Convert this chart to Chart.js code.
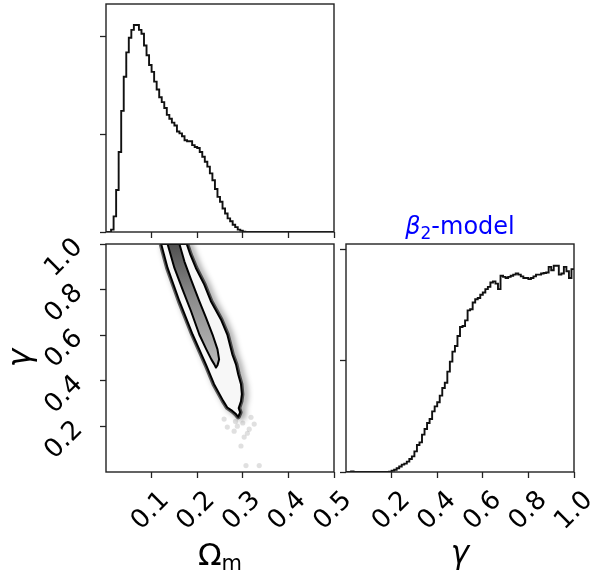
<!DOCTYPE html>
<html><head><meta charset="utf-8">
<script src="https://cdn.jsdelivr.net/npm/chart.js@4.4.1/dist/chart.umd.min.js"></script>
<style>
html,body{margin:0;padding:0;background:#fff;}
#wrap{position:relative;width:594px;height:577px;overflow:hidden;}
canvas{position:absolute;left:0;top:0;}
</style></head><body>
<div id="wrap">
<canvas id="cTL" width="594" height="577"></canvas>
<canvas id="cBL" width="594" height="577"></canvas>
<canvas id="cBR" width="594" height="577"></canvas>
</div>
<script>
// ---------------- data ----------------
const omRange = [0, 0.5];
const gRange = [0, 1];
// marginal histogram of Omega_m (90 bins over omRange)
const omHist = [0, 0, 0.024, 0.16, 0.43, 0.82, 1.24, 1.59, 1.84, 1.99,
  2.07, 2.12, 2.12, 2.07, 2.03, 1.91, 1.81, 1.71, 1.64, 1.54,
  1.46, 1.38, 1.33, 1.27, 1.20, 1.16, 1.12, 1.09, 1.03, 1.01,
  0.98, 0.94, 0.93, 0.93, 0.89, 0.87, 0.86, 0.82, 0.77, 0.72,
  0.67, 0.60, 0.53, 0.44, 0.36, 0.31, 0.24, 0.19, 0.14, 0.11,
  0.075, 0.05, 0.024, 0.014, 0.003, 0, 0, 0, 0, 0,
  0, 0, 0, 0, 0, 0, 0, 0, 0, 0,
  0, 0, 0, 0, 0, 0, 0, 0, 0, 0,
  0, 0, 0, 0, 0, 0, 0, 0, 0, 0];
// marginal histogram of gamma (90 bins over gRange)
const gHist = [0, 0, 0.006, 0, 0, 0, 0, 0, 0, 0,
  0, 0, 0, 0, 0, 0, 0, 0.003, 0.012, 0.02,
  0.033, 0.05, 0.066, 0.075, 0.093, 0.117, 0.14, 0.185, 0.242, 0.266,
  0.335, 0.386, 0.44, 0.475, 0.544, 0.589, 0.625, 0.685, 0.753, 0.80,
  0.90, 0.99, 1.08, 1.13, 1.22, 1.30, 1.31, 1.36, 1.45, 1.46,
  1.52, 1.55, 1.56, 1.59, 1.61, 1.64, 1.66, 1.70, 1.71, 1.69,
  1.64, 1.76, 1.75, 1.74, 1.75, 1.76, 1.77, 1.78, 1.77, 1.755,
  1.74, 1.74, 1.73, 1.74, 1.755, 1.77, 1.77, 1.78, 1.785, 1.79,
  1.84, 1.81, 1.85, 1.85, 1.77, 1.78, 1.84, 1.80, 1.74, 1.82];
const omTicks = [0.1, 0.2, 0.3, 0.4, 0.5];
const omTickLabels = ['0.1', '0.2', '0.3', '0.4', '0.5'];
const gTicks = [0.2, 0.4, 0.6, 0.8, 1.0];
const gTickLabels = ['0.2', '0.4', '0.6', '0.8', '1.0'];
const histTicks = [0, 1, 2];
const omHistMax = 2.335;
const gHistMax = 2.045;
// 2D contours (Omega_m, gamma)
const outerX = [0.121, 0.135, 0.161, 0.190, 0.219, 0.237, 0.257, 0.266, 0.277, 0.285, 0.290, 0.294, 0.291, 0.296, 0.298, 0.296, 0.290, 0.285, 0.277, 0.266, 0.252, 0.230, 0.2155, 0.197, 0.185, 0.177];
const outerY = [1.000, 0.895, 0.749, 0.603, 0.472, 0.385, 0.312, 0.283, 0.268, 0.254, 0.242, 0.262, 0.280, 0.310, 0.341, 0.385, 0.428, 0.472, 0.516, 0.603, 0.669, 0.749, 0.822, 0.895, 0.953, 1.000];
const innerX = [0.135, 0.150, 0.168, 0.1865, 0.2046, 0.220, 0.231, 0.2376, 0.241, 0.2445, 0.248, 0.2445, 0.2336, 0.219, 0.2046, 0.1865, 0.172, 0.161];
const innerY = [1.000, 0.895, 0.800, 0.705, 0.603, 0.538, 0.494, 0.472, 0.458, 0.468, 0.494, 0.538, 0.603, 0.678, 0.749, 0.844, 0.923, 1.000];
// isolated samples outside the outer contour
const strayX = [0.307, 0.336, 0.281, 0.303, 0.314, 0.266, 0.325, 0.296, 0.288, 0.318, 0.259, 0.300, 0.310, 0.284];
const strayY = [0.028, 0.028, 0.179, 0.153, 0.188, 0.197, 0.210, 0.114, 0.201, 0.240, 0.232, 0.215, 0.170, 0.222];

// ---------------- helpers ----------------
function stepData(r, vals) {
  const n = vals.length, w = (r[1] - r[0]) / n;
  const pts = vals.map((v, i) => ({x: r[0] + i * w, y: v}));
  pts.push({x: r[1], y: vals[n - 1]});
  return pts;
}
function poly(xs, ys) {
  const p = xs.map((x, i) => ({x: x, y: ys[i]}));
  p.push({x: xs[0], y: ys[0]});
  return p;
}
const FONT = '"DejaVu Sans", "Liberation Sans", sans-serif';
const TICKC = '#222';
function axisX(min, max, ticks) {
  return {type: 'linear', min: min, max: max,
    afterBuildTicks: s => { s.ticks = ticks.map(v => ({value: v})); },
    afterFit: s => { s.height = 10; },
    ticks: {display: false},
    border: {display: false},
    grid: {display: true, drawOnChartArea: false, drawTicks: true, tickLength: 6, tickColor: TICKC, tickWidth: 1.3}};
}
function axisY(min, max, ticks) {
  return {type: 'linear', min: min, max: max,
    afterBuildTicks: s => { s.ticks = ticks.map(v => ({value: v})); },
    afterFit: s => { s.width = 10; },
    ticks: {display: false},
    border: {display: false},
    grid: {display: true, drawOnChartArea: false, drawTicks: true, tickLength: 6, tickColor: TICKC, tickWidth: 1.3}};
}
const framePlugin = {
  id: 'frame',
  afterDraw(chart) {
    const {left, top, right, bottom} = chart.chartArea;
    const c = chart.ctx;
    c.save(); c.strokeStyle = '#222'; c.lineWidth = 1.4;
    c.strokeRect(left, top, right - left, bottom - top);
    c.restore();
  }
};
const shadowPlugin = {
  id: 'shadow',
  beforeDatasetDraw(chart, args) {
    const ds = chart.data.datasets[args.index];
    if (ds.shadow) {
      const c = chart.ctx; c.save();
      c.shadowColor = ds.shadow.color; c.shadowBlur = ds.shadow.blur;
      c.shadowOffsetX = ds.shadow.dx; c.shadowOffsetY = ds.shadow.dy;
    }
  },
  afterDatasetDraw(chart, args) {
    if (chart.data.datasets[args.index].shadow) chart.ctx.restore();
  }
};
function rotText(c, txt, x, y, size) {
  c.save(); c.translate(x, y); c.rotate(-Math.PI / 4);
  c.font = size + 'px ' + FONT; c.textAlign = 'center'; c.textBaseline = 'middle';
  c.fillStyle = '#000'; c.fillText(txt, 0, 0); c.restore();
}
function baseOpts(pad, sx, sy) {
  return {responsive: false, animation: false, devicePixelRatio: 1,
    layout: {padding: pad},
    plugins: {legend: {display: false}, tooltip: {enabled: false}},
    scales: {x: sx, y: sy}};
}

// ---------------- top-left: Omega_m histogram ----------------
new Chart(document.getElementById('cTL'), {
  type: 'scatter',
  data: {datasets: [{data: stepData(omRange, omHist), showLine: true, stepped: 'before',
    borderColor: '#111', borderWidth: 1.9, pointRadius: 0, fill: false}]},
  options: baseOpts({left: 96, top: 4, right: 260, bottom: 335},
    axisX(omRange[0], omRange[1], omTicks), axisY(0, omHistMax, histTicks)),
  plugins: [framePlugin]
});

// ---------------- bottom-left: 2D ----------------
const blLabels = {
  id: 'blLabels',
  afterDraw(chart) {
    const c = chart.ctx, sx = chart.scales.x, sy = chart.scales.y;
    omTicks.forEach((v, i) => rotText(c, omTickLabels[i], sx.getPixelForValue(v) - 1, 511, 26));
    gTicks.forEach((v, i) => rotText(c, gTickLabels[i], 64, sy.getPixelForValue(v) + 14, 26));
    // x label Omega_m
    c.save(); c.fillStyle = '#000'; c.textBaseline = 'alphabetic'; c.textAlign = 'left';
    c.font = '31px ' + FONT; const wO = c.measureText('Ω').width;
    c.font = '21px ' + FONT; const wm = c.measureText('m').width;
    const cx = (chart.chartArea.left + chart.chartArea.right) / 2;
    const x0 = cx - (wO + wm) / 2;
    c.font = '31px ' + FONT; c.fillText('Ω', x0, 565);
    c.font = '21px ' + FONT; c.fillText('m', x0 + wO, 570);
    // y label gamma
    c.translate(30, (chart.chartArea.top + chart.chartArea.bottom) / 2);
    c.rotate(-Math.PI / 2);
    c.font = 'italic 31px ' + FONT; c.textAlign = 'center';
    c.fillText('γ', 0, 0);
    c.restore();
  }
};
new Chart(document.getElementById('cBL'), {
  type: 'scatter',
  data: {datasets: [
    {label: 'inner', data: poly(innerX, innerY), showLine: true, fill: 'shape',
      backgroundColor: function(ctx) {
        const ch = ctx.chart, a = ch.chartArea;
        if (!a) return '#999';
        const g = ch.ctx.createLinearGradient(0, a.top, 0, a.top + (a.bottom - a.top) * 0.55);
        g.addColorStop(0, '#505050'); g.addColorStop(0.45, '#8e8e8e'); g.addColorStop(1, '#bebebe');
        return g;
      },
      borderColor: '#000', borderWidth: 2, pointRadius: 0, tension: 0, borderJoinStyle: 'round'},
    {label: 'outer', data: poly(outerX, outerY), showLine: true, fill: 'shape',
      backgroundColor: '#f7f7f7', borderColor: '#000', borderWidth: 2, pointRadius: 0, tension: 0, borderJoinStyle: 'round'},
    {label: 'fringe', data: poly(outerX, outerY), showLine: true, fill: false,
      borderColor: 'rgba(0,0,0,0.6)', borderWidth: 5, pointRadius: 0, tension: 0, borderJoinStyle: 'round',
      shadow: {color: 'rgba(0,0,0,0.75)', blur: 6, dx: 3, dy: 1}},
    {label: 'stray', data: strayX.map((x, i) => ({x: x, y: strayY[i]})), showLine: false,
      pointRadius: 2.6, pointBackgroundColor: 'rgba(0,0,0,0.12)', pointBorderWidth: 0}
  ]},
  options: baseOpts({left: 96, top: 244, right: 260, bottom: 95},
    axisX(omRange[0], omRange[1], omTicks), axisY(gRange[0], gRange[1], gTicks)),
  plugins: [shadowPlugin, framePlugin, blLabels]
});

// ---------------- bottom-right: gamma histogram ----------------
const brLabels = {
  id: 'brLabels',
  afterDraw(chart) {
    const c = chart.ctx, sx = chart.scales.x, a = chart.chartArea;
    gTicks.forEach((v, i) => rotText(c, gTickLabels[i], sx.getPixelForValue(v), 511, 26));
    const cx = (a.left + a.right) / 2;
    c.save(); c.fillStyle = '#000'; c.textBaseline = 'alphabetic'; c.textAlign = 'center';
    c.font = 'italic 31px ' + FONT; c.fillText('γ', cx, 563);
    // title
    c.textAlign = 'left'; c.fillStyle = '#0000ff';
    c.font = 'italic 24px ' + FONT; const wb = c.measureText('β').width;
    c.font = '17px ' + FONT; const w2 = c.measureText('2').width;
    c.font = '24px ' + FONT; const wr = c.measureText('-model').width;
    const x0 = cx - (wb + w2 + wr) / 2;
    c.font = 'italic 24px ' + FONT; c.fillText('β', x0, 234);
    c.font = '17px ' + FONT; c.fillText('2', x0 + wb, 239);
    c.font = '24px ' + FONT; c.fillText('-model', x0 + wb + w2, 234);
    c.restore();
  }
};
new Chart(document.getElementById('cBR'), {
  type: 'scatter',
  data: {datasets: [{data: stepData(gRange, gHist), showLine: true, stepped: 'before',
    borderColor: '#111', borderWidth: 1.9, pointRadius: 0, fill: false}]},
  options: baseOpts({left: 336, top: 244, right: 20, bottom: 95},
    axisX(gRange[0], gRange[1], gTicks), axisY(0, gHistMax, histTicks)),
  plugins: [framePlugin, brLabels]
});
</script>
</body></html>
